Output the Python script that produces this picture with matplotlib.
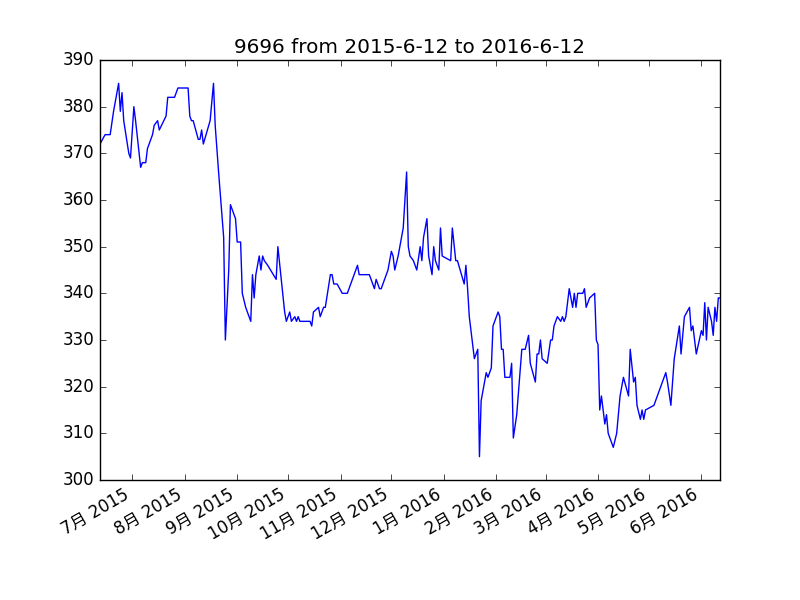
import datetime as dt
import matplotlib
matplotlib.use('Agg')
import matplotlib.pyplot as plt
import matplotlib.dates as mdates
from matplotlib.ticker import FuncFormatter

plt.style.use('classic')
plt.rcParams['font.family'] = ['DejaVu Sans', 'Noto Sans CJK SC']

start = dt.date(2015, 6, 12)
end = dt.date(2016, 6, 12)

# day offsets from start date, and closing values
days = [0, 3, 6, 8, 11, 12, 13, 14, 17, 18, 20, 21, 24, 25, 27, 28, 31, 32, 34, 35,
        39, 40, 44, 46, 52, 53, 54, 55, 58, 59, 60, 61, 65, 67, 68, 70, 73, 74, 76, 77,
        80, 81, 83, 84, 86, 89, 90, 91, 92, 94, 95, 96, 97, 99, 104, 105, 109, 110, 112, 113,
        115, 116, 117, 118, 124, 125, 126, 129, 130, 132, 133, 136, 137, 138, 140, 143, 146, 148, 150, 152,
        153, 159, 161, 162, 163, 165, 166, 168, 170, 172, 173, 174, 176, 179, 181, 182, 183, 185, 187, 189,
        190, 191, 193, 194, 196, 197, 198, 200, 201, 202, 207, 208, 210, 211, 215, 216, 217, 218, 221, 223,
        224, 225, 228, 229, 231, 232, 235, 236, 237, 238, 239, 242, 243, 244, 246, 249, 251, 253, 254, 257,
        258, 259, 260, 261, 264, 266, 267, 268, 270, 272, 273, 274, 275, 277, 279, 280, 281, 282, 285, 286,
        287, 289, 292, 293, 294, 295, 296, 298, 299, 300, 303, 305, 307, 309, 312, 313, 315, 316, 317, 319,
        320, 321, 322, 327, 334, 335, 337, 339, 342, 343, 345, 348, 349, 350, 352, 355, 356, 357, 358, 359,
        361, 362, 363, 364, 365, 366]
values = [372, 374, 374, 379, 385, 379, 383, 377, 370, 369, 380, 377, 367, 368, 368, 371, 374, 376, 377, 375,
          378, 382, 382, 384, 384, 378, 377, 377, 373, 373, 375, 372, 377, 385, 376, 366, 352, 330, 345, 359,
          356, 351, 351, 340, 337, 334, 344, 339, 344, 348, 345, 348, 347, 346, 343, 350, 336, 334, 336, 334,
          335, 334, 335, 334, 334, 333, 336, 337, 335, 337, 337, 344, 344, 342, 342, 340, 340, 342, 344, 346,
          344, 344, 342, 341, 343, 341, 341, 343, 345, 349, 348, 345, 348, 354, 366, 350, 348, 347, 345, 350,
          347, 352, 356, 348, 344, 350, 347, 345, 354, 348, 347, 354, 347, 347, 342, 346, 341, 335, 326, 328,
          305, 317, 323, 322, 324, 333, 336, 335, 328, 328, 322, 322, 325, 309, 314, 328, 328, 331, 325, 321,
          327, 327, 330, 326, 325, 330, 330, 333, 335, 334, 335, 334, 335, 341, 337, 340, 337, 340, 340, 341,
          337, 339, 340, 330, 329, 315, 318, 312, 314, 310, 307, 310, 318, 322, 318, 328, 321, 322, 316, 313,
          315, 313, 315, 316, 323, 321, 316, 326, 333, 327, 335, 337, 332, 333, 327, 332, 331, 338, 330, 337,
          334, 331, 337, 334, 339, 339]

dates = [start + dt.timedelta(days=d) for d in days]

fig = plt.figure(figsize=(8, 6), dpi=100, facecolor='white')
ax = fig.add_subplot(111)
ax.plot(dates, values, color='b', linewidth=1)
ax.set_xlim(start, end)
ax.set_ylim(300, 390)
ax.set_title('9696 from 2015-6-12 to 2016-6-12')

ax.xaxis.set_major_locator(mdates.MonthLocator())
ax.xaxis.set_major_formatter(FuncFormatter(
    lambda x, pos: '%d月 %d' % (mdates.num2date(x).month, mdates.num2date(x).year)))
fig.autofmt_xdate()

fig.savefig('out.png', dpi=100, facecolor='white')
